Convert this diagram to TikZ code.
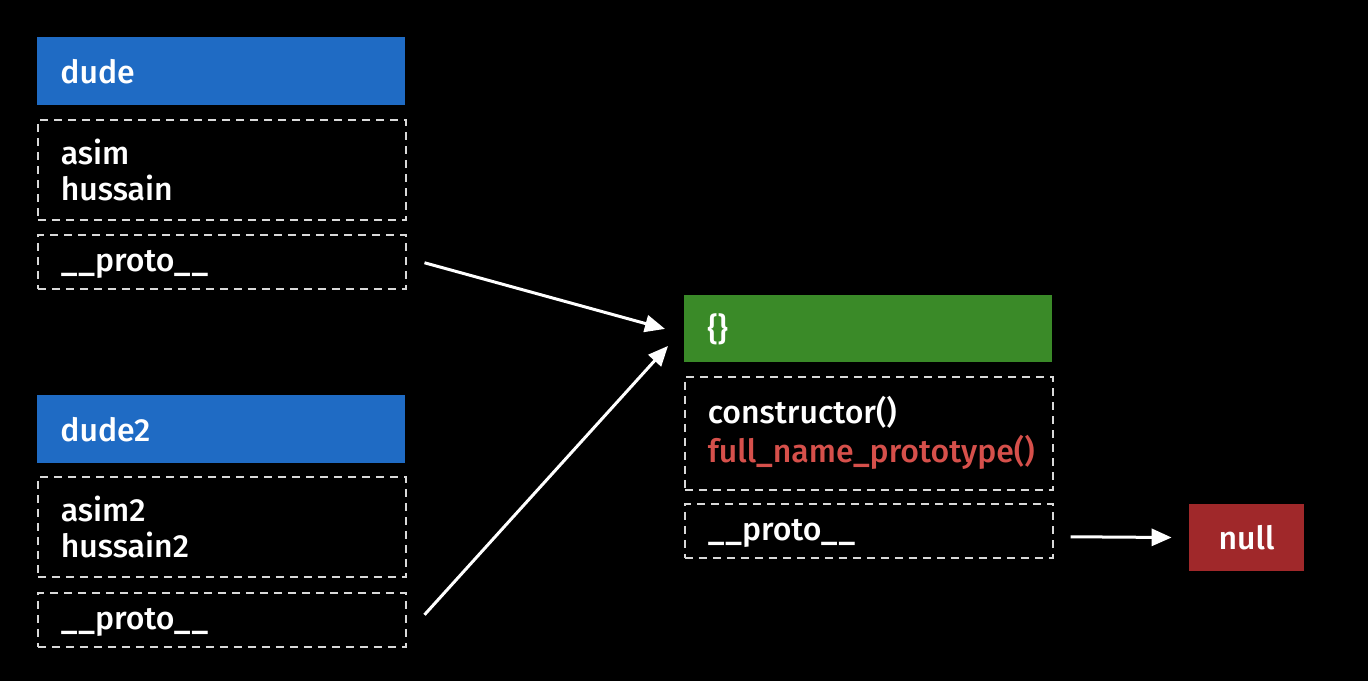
\documentclass[tikz,border=0pt]{standalone}
\usepackage{fontspec}
\setmainfont{Fira Sans}[UprightFont=* Medium]
\usetikzlibrary{arrows.meta}
\definecolor{hdblue}{RGB}{31,107,196}
\definecolor{hdgreen}{RGB}{58,138,40}
\definecolor{nullred}{RGB}{160,40,42}
\definecolor{fnred}{RGB}{214,80,75}
\begin{document}
\begin{tikzpicture}[x=0.5pt,y=-0.5pt,
	font=\fontsize{16pt}{18pt}\selectfont, text=white,
	header/.style={anchor=north west, text width=161pt, inner xsep=11.5pt, align=left, minimum height=34pt},
	field/.style={header, draw=white!85!black, line width=0.75pt, dash pattern=on 4pt off 3pt},
	proto/.style={field, minimum height=27pt, text height=11pt, text depth=1.5pt},
	link/.style={draw=white, line width=1.5pt, -{Triangle[length=10pt,width=8.5pt]}}]
	\fill[black] (0,0) rectangle (1368,681);
	\node (D1)  at (37,37)   [header, fill=hdblue]	{dude};
	\node (F1)  at (37,119)  [field, minimum height=50pt]	{asim\\hussain};
	\node (P1)  at (37,234)  [proto]	{\_\kern0.5pt\_proto\_\kern0.5pt\_};
	\node (D2)  at (37,395)  [header, fill=hdblue]	{dude2};
	\node (F2)  at (37,476)  [field, minimum height=50pt]	{asim2\\hussain2};
	\node (P2)  at (37,592)  [proto]	{\_\kern0.5pt\_proto\_\kern0.5pt\_};
	\node (O)   at (684,295) [header, fill=hdgreen, minimum height=33.5pt]	{\{\}};
	\node (OF)  at (684,376) [field, minimum height=56.5pt, font=\fontsize{16pt}{19.5pt}\selectfont]	{constructor()\\\textcolor{fnred}{full\_name\_prototype()}};
	\node (OP)  at (684,503) [proto]	{\_\kern0.5pt\_proto\_\kern0.5pt\_};
	\node (N)   at (1246.5,537.5) [fill=nullred, minimum width=57.5pt, minimum height=33.5pt]	{null};
	\draw[link] ([xshift=9pt,yshift=-0.5pt]P1.east) -- ([xshift=-9.5pt]O.west);
	\draw[link] ([xshift=9pt,yshift=2.5pt]P2.east) -- ([xshift=-8pt,yshift=-8.5pt]O.west);
	\draw[link] ([xshift=8.5pt,yshift=-3pt]OP.east) -- ([xshift=-8.5pt]N.west);
\end{tikzpicture}
\end{document}
